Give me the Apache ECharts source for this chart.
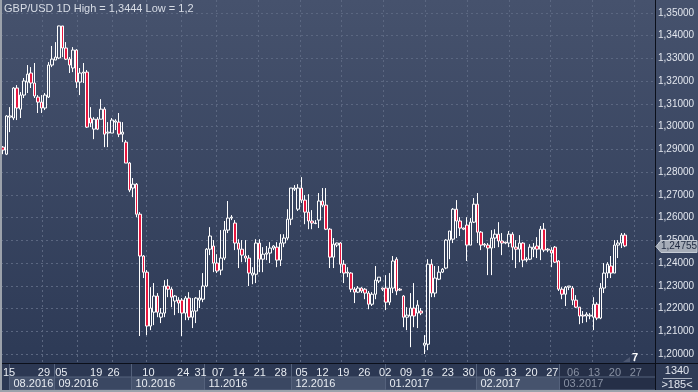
<!DOCTYPE html>
<html><head><meta charset="utf-8">
<script src="https://cdn.jsdelivr.net/npm/echarts@6/dist/echarts.min.js"></script>
<style>
html,body{margin:0;padding:0;background:#2c3853;}
#c{width:698px;height:392px;background:linear-gradient(to bottom,#46526d 0px,#2d3a56 363px,#2c3853 392px);}
</style>
</head><body><div id="c"></div>
<script>
const titleText = 'GBP/USD 1D High = 1,3444 Low = 1,2';
const lastPrice = 1.24755;
const cornerTop = '1340';
const cornerBottom = '>185<';

const openP = [
1.2910,1.2879,1.3042,1.3038,1.3170,1.3077,1.3139,1.3196,1.3236,1.3192,
1.3130,1.3108,1.3082,1.3130,1.3271,1.3293,1.3302,1.3443,1.3346,1.3297,
1.3258,1.3337,1.3196,1.3236,1.3240,1.3038,1.2989,1.3033,1.3033,1.3077,
1.2972,1.2972,1.3020,1.3020,1.2967,1.2932,1.2840,1.2730,1.2747,1.2615,
1.2431,1.2360,1.2123,1.2184,1.2255,1.2162,1.2180,1.2299,1.2285,1.2233,
1.2237,1.2237,1.2180,1.2246,1.2162,1.2189,1.2237,1.2241,1.2299,1.2461,
1.2475,1.2400,1.2369,1.2422,1.2545,1.2598,1.2576,1.2488,1.2461,1.2431,
1.2422,1.2347,1.2351,1.2488,1.2417,1.2439,1.2444,1.2466,1.2470,1.2413,
1.2488,1.2510,1.2593,1.2725,1.2637,1.2730,1.2677,1.2624,1.2585,1.2576,
1.2589,1.2673,1.2655,1.2549,1.2426,1.2479,1.2488,1.2395,1.2360,1.2356,
1.2285,1.2272,1.2290,1.2285,1.2268,1.2219,1.2263,1.2321,1.2290,1.2290,
1.2228,1.2290,1.2417,1.2285,1.2255,1.2162,1.2167,1.2202,1.2180,1.2189,
1.2039,1.2043,1.2395,1.2268,1.2329,1.2360,1.2378,1.2501,1.2505,1.2637,
1.2585,1.2554,1.2567,1.2479,1.2580,1.2659,1.2536,1.2483,1.2479,1.2466,
1.2510,1.2527,1.2497,1.2492,1.2488,1.2527,1.2470,1.2461,1.2488,1.2417,
1.2417,1.2461,1.2475,1.2461,1.2549,1.2461,1.2457,1.2470,1.2409,1.2285,
1.2263,1.2294,1.2290,1.2237,1.2206,1.2171,1.2167,1.2167,1.2162,1.2219,
1.2158,1.2290,1.2356,1.2387,1.2356,1.2479,1.2488,1.2523];

const closeP = [
1.2897,1.3047,1.3047,1.3170,1.3082,1.3139,1.3201,1.3231,1.3192,1.3135,
1.3108,1.3082,1.3139,1.3271,1.3297,1.3306,1.3443,1.3346,1.3297,1.3271,
1.3337,1.3196,1.3236,1.3240,1.2998,1.3016,1.3033,1.2989,1.3077,1.2967,
1.2976,1.3029,1.3025,1.2967,1.2976,1.2840,1.2721,1.2747,1.2615,1.2431,
1.2360,1.2123,1.2202,1.2255,1.2184,1.2180,1.2299,1.2285,1.2250,1.2255,
1.2224,1.2180,1.2246,1.2162,1.2189,1.2246,1.2246,1.2299,1.2461,1.2519,
1.2400,1.2365,1.2422,1.2545,1.2598,1.2602,1.2488,1.2461,1.2435,1.2422,
1.2356,1.2356,1.2488,1.2417,1.2439,1.2444,1.2466,1.2475,1.2413,1.2488,
1.2510,1.2593,1.2730,1.2730,1.2730,1.2677,1.2624,1.2585,1.2576,1.2574,
1.2673,1.2655,1.2549,1.2426,1.2483,1.2488,1.2395,1.2356,1.2356,1.2285,
1.2272,1.2290,1.2277,1.2268,1.2219,1.2263,1.2325,1.2338,1.2285,1.2228,
1.2290,1.2409,1.2277,1.2281,1.2162,1.2171,1.2202,1.2167,1.2215,1.2180,
1.2048,1.2395,1.2268,1.2334,1.2360,1.2373,1.2501,1.2541,1.2637,1.2585,
1.2554,1.2549,1.2479,1.2580,1.2659,1.2536,1.2479,1.2479,1.2466,1.2510,
1.2527,1.2497,1.2488,1.2488,1.2527,1.2470,1.2461,1.2488,1.2413,1.2413,
1.2470,1.2470,1.2461,1.2549,1.2457,1.2457,1.2444,1.2404,1.2285,1.2263,
1.2294,1.2299,1.2237,1.2206,1.2167,1.2167,1.2175,1.2171,1.2219,1.2158,
1.2290,1.2356,1.2395,1.2356,1.2479,1.2488,1.2523,1.24755];

const highP = [
1.2915,1.3051,1.3086,1.3174,1.3183,1.3152,1.3214,1.3271,1.3262,1.3280,
1.3139,1.3139,1.3148,1.3284,1.3355,1.3372,1.3444,1.3442,1.3372,1.3306,
1.3350,1.3341,1.3258,1.3280,1.3249,1.3086,1.3042,1.3042,1.3121,1.3086,
1.3020,1.3038,1.3033,1.3060,1.3020,1.2941,1.2844,1.2774,1.2752,1.2624,
1.2435,1.2369,1.2294,1.2312,1.2268,1.2202,1.2325,1.2329,1.2294,1.2259,
1.2250,1.2246,1.2255,1.2272,1.2246,1.2250,1.2281,1.2356,1.2466,1.2558,
1.2501,1.2439,1.2545,1.2585,1.2673,1.2611,1.2589,1.2505,1.2501,1.2501,
1.2435,1.2382,1.2505,1.2505,1.2470,1.2475,1.2492,1.2479,1.2492,1.2527,
1.2527,1.2637,1.2730,1.2743,1.2747,1.2778,1.2699,1.2703,1.2633,1.2589,
1.2708,1.2730,1.2730,1.2554,1.2510,1.2490,1.2492,1.2413,1.2382,1.2360,
1.2294,1.2299,1.2294,1.2290,1.2277,1.2272,1.2387,1.2338,1.2292,1.2347,
1.2356,1.2431,1.2426,1.2290,1.2259,1.2206,1.2268,1.2312,1.2237,1.2202,
1.2083,1.2417,1.2417,1.2387,1.2387,1.2378,1.2505,1.2541,1.2642,1.2677,
1.2602,1.2556,1.2602,1.2598,1.2686,1.2708,1.2541,1.2488,1.2488,1.2545,
1.2549,1.2580,1.2532,1.2494,1.2541,1.2536,1.2501,1.2523,1.2492,1.2426,
1.2483,1.2488,1.2514,1.2563,1.2576,1.2466,1.2470,1.2475,1.2413,1.2294,
1.2299,1.2299,1.2299,1.2259,1.2206,1.2189,1.2184,1.2180,1.2250,1.2228,
1.2312,1.2400,1.2404,1.2431,1.2501,1.2501,1.2532,1.2532];

const lowP = [
1.2879,1.2875,1.2976,1.3029,1.3029,1.3038,1.3126,1.3148,1.3170,1.3126,
1.3060,1.3060,1.3073,1.3126,1.3262,1.3293,1.3297,1.3306,1.3293,1.3236,
1.3240,1.3170,1.3139,1.3192,1.2994,1.2998,1.2945,1.2985,1.3033,1.2910,
1.2910,1.2972,1.2985,1.2954,1.2932,1.2840,1.2712,1.2690,1.2602,1.2079,
1.2334,1.2083,1.2105,1.2127,1.2162,1.2136,1.2162,1.2250,1.2206,1.2171,
1.2180,1.2079,1.2149,1.2149,1.2114,1.2136,1.2202,1.2228,1.2294,1.2435,
1.2360,1.2356,1.2347,1.2413,1.2532,1.2589,1.2457,1.2378,1.2404,1.2404,
1.2299,1.2307,1.2312,1.2360,1.2360,1.2413,1.2400,1.2457,1.2382,1.2387,
1.2470,1.2501,1.2567,1.2717,1.2629,1.2664,1.2571,1.2549,1.2549,1.2571,
1.2554,1.2646,1.2545,1.2378,1.2378,1.2470,1.2356,1.2312,1.2338,1.2272,
1.2224,1.2268,1.2268,1.2241,1.2197,1.2211,1.2241,1.2312,1.2277,1.2193,
1.2215,1.2268,1.2259,1.2277,1.2118,1.2105,1.2030,1.2118,1.2114,1.2171,
1.2000,1.2017,1.2250,1.2250,1.2325,1.2356,1.2373,1.2417,1.2488,1.2510,
1.2519,1.2545,1.2409,1.2479,1.2576,1.2488,1.2457,1.2470,1.2347,1.2347,
1.2466,1.2470,1.2435,1.2483,1.2470,1.2413,1.2378,1.2404,1.2382,1.2404,
1.2413,1.2426,1.2422,1.2413,1.2448,1.2448,1.2382,1.2400,1.2277,1.2241,
1.2211,1.2281,1.2215,1.2202,1.2131,1.2136,1.2140,1.2153,1.2105,1.2149,
1.2153,1.2268,1.2334,1.2334,1.2356,1.2422,1.2466,1.2470];

// day tick labels shown on the time axis
const dayTickDates = ['2016-08-15','2016-08-29','2016-09-05','2016-09-19','2016-09-26','2016-10-10',
'2016-10-24','2016-10-31','2016-11-07','2016-11-14','2016-11-21','2016-11-28','2016-12-05','2016-12-12',
'2016-12-19','2016-12-26','2017-01-02','2017-01-09','2017-01-16','2017-01-23','2017-01-30','2017-02-06',
'2017-02-13','2017-02-20','2017-02-27','2017-03-06','2017-03-13','2017-03-20','2017-03-27'];
// vertical grid line dates
const gridDates = ['2016-08-29','2016-09-12','2016-09-26','2016-10-10','2016-10-24','2016-11-07',
'2016-11-21','2016-12-05','2016-12-19','2017-01-02','2017-01-16','2017-01-30','2017-02-13',
'2017-02-27','2017-03-13','2017-03-27'];
const currentMonth = '2017-03';

// trading-day calendar: Mon-Fri, plus Saturday sessions from 2016-11-07 on
function buildDates(n){
  const out=[]; let t=Date.UTC(2016,7,15);
  const satFrom=Date.UTC(2016,10,7);
  while(out.length<n){
    const d=new Date(t), wd=d.getUTCDay();
    if(wd!==0 && (wd!==6 || t>=satFrom)) out.push(d.toISOString().slice(0,10));
    t+=86400000;
  }
  return out;
}
const dates = buildDates(186);
const daySet = new Set(dayTickDates);
const gridSet = new Set(gridDates);
const candles = openP.map((o,i)=>[o, closeP[i], lowP[i], highP[i]]);
const FONT = '"Liberation Sans", Arial, sans-serif';

const chart = echarts.init(document.getElementById('c'), null, {renderer:'canvas'});
chart.setOption({
  animation:false,
  backgroundColor:'transparent',
  grid:[{left:1,right:43,top:13,bottom:38},{left:1,right:43,top:0,bottom:29}],
  xAxis:[
    {gridIndex:0,type:'category',data:dates,boundaryGap:true,
     axisLine:{show:false},axisTick:{show:false},axisLabel:{show:false},splitLine:{show:false}},
    {gridIndex:1,type:'category',data:dates,boundaryGap:true,
     axisLine:{show:false},axisTick:{show:false},
     axisLabel:{interval:(i,v)=>daySet.has(v),formatter:v=>v.slice(8,10),
       color:(v)=> (v && v.slice(0,7)===currentMonth) ? '#8891a3' : '#e8ecf2',
       fontSize:11,fontFamily:FONT,margin:4},
     splitLine:{show:true,interval:(i,v)=>gridSet.has(v),lineStyle:{color:'#5b6781',type:[2,3],width:1}}}
  ],
  yAxis:[
    {gridIndex:0,type:'value',position:'right',min:1.2,max:1.35,interval:0.01,
     axisLine:{show:false},axisTick:{show:false},
     axisLabel:{formatter:v=>v.toFixed(5).replace('.',','),color:'#e2e6ee',fontSize:10,fontFamily:FONT,margin:3},
     splitLine:{show:true,lineStyle:{color:'#5b6781',type:[2,3],width:1}}},
    {gridIndex:1,type:'value',show:false,min:0,max:1}
  ],
  series:[{type:'candlestick',xAxisIndex:0,yAxisIndex:0,data:candles,barWidth:3,
    itemStyle:{color:'transparent',color0:'#e8173f',borderColor:'#ffffff',borderColor0:'#ffffff',borderWidth:1}}]
});

// decorations derived from axis positions
const W=698,H=392,AX=655.5,AY=363.5;
const g=[];
g.push({type:'rect',shape:{x:0,y:364,width:W,height:28},style:{fill:'#2c3853'},z:-10});
// month boxes (only months up to the current one)
const months=[];
dates.forEach((d,i)=>{const m=d.slice(0,7); if(m>currentMonth) return; if(!months.length||months[months.length-1].m!==m) months.push({m,i});});
months.forEach((mo,k)=>{
  let xs = chart.convertToPixel({xAxisIndex:1}, mo.i);
  if(k===0) xs = Math.max(xs,6);
  const xe = k+1<months.length ? chart.convertToPixel({xAxisIndex:1}, months[k+1].i) : AX;
  const x0=Math.round(xs)+0.5, x1=Math.min(Math.round(xe)+0.5,AX);
  const cur = mo.m===currentMonth;
  if(cur){
    g.push({type:'rect',shape:{x:x0,y:364,width:AX-x0,height:26},style:{fill:'#252f47'},z:-9});
  }
  g.push({type:'rect',shape:{x:x0,y:377,width:x1-x0,height:13},
    style:{fill: cur?'#252f47':(k%2===0?'#46536d':'#3a4762'),stroke:'#55627c',lineWidth:1},z:-8});
  g.push({type:'line',shape:{x1:x0,y1:364,x2:x0,y2:390},style:{stroke:'#55627c',lineWidth:1},z:-7});
  const [mm,yy]=[mo.m.slice(5,7),mo.m.slice(0,4)];
  g.push({type:'text',x:x0+4,y:383.5,style:{text:mm+'.'+yy,fill:cur?'#8891a3':'#e8ecf2',font:'11px '+FONT,textVerticalAlign:'middle'},z:5});
});
// frame lines
g.push({type:'line',shape:{x1:0,y1:AY,x2:W,y2:AY},style:{stroke:'#0b0f1a',lineWidth:1},z:50});
g.push({type:'line',shape:{x1:AX,y1:0,x2:AX,y2:H},style:{stroke:'#0b0f1a',lineWidth:1},z:50});
g.push({type:'rect',shape:{x:0,y:390,width:W,height:2},style:{fill:'#9ca2ab'},z:50});
g.push({type:'rect',shape:{x:0,y:0,width:2,height:H},style:{fill:'#9ca2ab'},z:50});
// corner box
g.push({type:'rect',shape:{x:656,y:364,width:42,height:26},style:{fill:'#2f3b56'},z:45});
g.push({type:'text',x:677,y:370.5,style:{text:cornerTop,fill:'#e2e6ee',font:'11px '+FONT,align:'center',verticalAlign:'middle'},z:50});
g.push({type:'line',shape:{x1:663,y1:378.5,x2:692,y2:378.5},style:{stroke:'#aab2c0',lineWidth:1},z:50});
g.push({type:'text',x:677,y:384.5,style:{text:cornerBottom,fill:'#e2e6ee',font:'11px '+FONT,align:'center',verticalAlign:'middle'},z:50});
// title
g.push({type:'text',x:4,y:9,style:{text:titleText,fill:'#d8dde6',font:'11px '+FONT,verticalAlign:'middle'},z:50});
// bar counter mark
g.push({type:'polygon',shape:{points:[[623,362],[630,357],[630,362]]},style:{fill:'#4d5872'},z:40});
g.push({type:'text',x:635,y:358,style:{text:'7',fill:'#ffffff',font:'bold 11px '+FONT,align:'center',verticalAlign:'middle'},z:40});
// current price marker
const py = Math.round(chart.convertToPixel({yAxisIndex:0}, lastPrice))+0.5;
g.push({type:'polygon',shape:{points:[[656,py],[661,py-6],[697,py-6],[697,py+6],[661,py+6]]},
  style:{fill:'#a6adb8',stroke:'#c6ccd5',lineWidth:1},z:60});
g.push({type:'text',x:679,y:py,style:{text:lastPrice.toFixed(5).replace('.',','),fill:'#1f2a40',font:'10px '+FONT,align:'center',verticalAlign:'middle'},z:61});
chart.setOption({graphic:{elements:g}});
</script>
</body></html>
